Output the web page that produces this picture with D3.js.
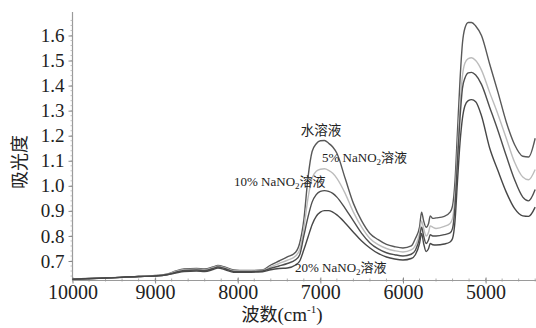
<!DOCTYPE html>
<html>
<head>
<meta charset="utf-8">
<script src="https://cdn.jsdelivr.net/npm/d3@7"></script>
<style>
  body { margin: 0; background: #fff; }
  svg { display: block; }
</style>
</head>
<body>
<div class="svg-container"></div>
<script>
// wavenumber grid (cm-1)
const wavenumbers = [10000, 9600, 9200, 9000, 8850, 8750, 8650, 8500, 8400, 8300, 8240, 8150, 8050, 7900, 7700,
  7600, 7500, 7400, 7300, 7250, 7200, 7150, 7100, 7050, 7000, 6950, 6900, 6850, 6800, 6700, 6600, 6500, 6400,
  6300, 6200, 6100, 6000, 5900, 5850, 5800, 5775, 5750, 5720, 5690, 5670, 5640, 5600, 5500, 5430, 5400, 5370,
  5340, 5310, 5280, 5250, 5210, 5170, 5120, 5050, 4950, 4850, 4750, 4650, 4550, 4480, 4400];

const water = [0.628, 0.632, 0.638, 0.642, 0.648, 0.660, 0.668, 0.670, 0.668, 0.676, 0.682, 0.675, 0.664, 0.662, 0.664,
  0.684, 0.700, 0.716, 0.735, 0.772, 0.864, 1.032, 1.137, 1.168, 1.180, 1.181, 1.170, 1.155, 1.130, 1.030, 0.930, 0.860, 0.810,
  0.785, 0.766, 0.757, 0.752, 0.760, 0.790, 0.835, 0.895, 0.860, 0.835, 0.850, 0.880, 0.870, 0.872, 0.878, 0.895, 0.920, 1.020,
  1.220, 1.420, 1.570, 1.630, 1.652, 1.652, 1.638, 1.600, 1.485, 1.373, 1.255, 1.165, 1.118, 1.115, 1.190];

const nano5 = [0.628, 0.632, 0.638, 0.641, 0.647, 0.658, 0.665, 0.667, 0.665, 0.673, 0.679, 0.672, 0.661, 0.660, 0.662,
  0.677, 0.690, 0.703, 0.720, 0.745, 0.830, 0.950, 1.030, 1.058, 1.066, 1.068, 1.062, 1.050, 1.030, 0.970, 0.895, 0.835, 0.790,
  0.765, 0.750, 0.741, 0.736, 0.744, 0.762, 0.810, 0.860, 0.830, 0.800, 0.815, 0.840, 0.835, 0.830, 0.838, 0.850, 0.870, 0.960,
  1.140, 1.320, 1.440, 1.490, 1.508, 1.511, 1.500, 1.462, 1.372, 1.285, 1.190, 1.095, 1.035, 1.024, 1.065];

const nano10 = [0.627, 0.632, 0.638, 0.640, 0.646, 0.655, 0.662, 0.664, 0.662, 0.670, 0.676, 0.669, 0.658, 0.657, 0.660,
  0.671, 0.680, 0.690, 0.705, 0.725, 0.800, 0.875, 0.935, 0.965, 0.978, 0.981, 0.978, 0.970, 0.955, 0.910, 0.860, 0.810, 0.772,
  0.748, 0.733, 0.725, 0.720, 0.727, 0.743, 0.790, 0.835, 0.800, 0.770, 0.785, 0.805, 0.800, 0.800, 0.805, 0.812, 0.830, 0.920,
  1.100, 1.270, 1.390, 1.430, 1.451, 1.453, 1.442, 1.405, 1.313, 1.220, 1.120, 1.025, 0.955, 0.940, 0.985];

const nano20 = [0.627, 0.632, 0.638, 0.640, 0.645, 0.652, 0.658, 0.660, 0.658, 0.666, 0.672, 0.665, 0.655, 0.655, 0.657,
  0.665, 0.670, 0.672, 0.684, 0.700, 0.745, 0.795, 0.845, 0.878, 0.895, 0.901, 0.901, 0.895, 0.884, 0.852, 0.815, 0.780, 0.752,
  0.730, 0.716, 0.708, 0.704, 0.710, 0.725, 0.770, 0.810, 0.770, 0.738, 0.750, 0.770, 0.765, 0.764, 0.768, 0.776, 0.790, 0.860,
  1.020, 1.170, 1.270, 1.320, 1.340, 1.344, 1.336, 1.280, 1.150, 1.060, 0.975, 0.910, 0.880, 0.878, 0.915];

const seriesNames = ["水溶液", "5% NaNO2溶液", "10% NaNO2溶液", "20% NaNO2溶液"];
const xTicks = [10000, 9000, 8000, 7000, 6000, 5000];
const yTicks = [0.7, 0.8, 0.9, 1.0, 1.1, 1.2, 1.3, 1.4, 1.5, 1.6];

const width = 536, height = 328;
const serif = "'Liberation Serif', 'Times New Roman', serif";
const cjk = "'Noto Sans CJK SC', sans-serif";

const svg = d3.select(".svg-container").append("svg")
  .attr("width", width)
  .attr("height", height);

svg.append("rect").attr("width", width).attr("height", height).attr("fill", "#fff");

const x = d3.scaleLinear().domain([10000, 4390]).range([72.5, 536]);
const y = d3.scaleLinear().domain([0.7, 1.6]).range([261, 35.5]);
const axisTop = 12, axisBottom = 280.5;

// y axis
const yAxis = svg.append("g").attr("transform", `translate(${x(10000)},0)`);
yAxis.append("line").attr("y1", axisTop).attr("y2", axisBottom).attr("stroke", "#9a9a9a").attr("stroke-width", 1.2);
yAxis.selectAll(".minor").data(d3.range(0.64, 1.68, 0.02))
  .join("line")
  .attr("x1", -2).attr("x2", 0)
  .attr("y1", d => y(d)).attr("y2", d => y(d))
  .attr("stroke", "#b0b0b0").attr("stroke-width", 0.8);
yAxis.call(d3.axisLeft(y).tickValues(yTicks).tickFormat(d3.format(".1f")).tickSize(4))
  .call(g => g.select(".domain").remove())
  .call(g => g.selectAll(".tick line").attr("stroke", "#888"))
  .call(g => g.selectAll(".tick text")
    .attr("x", -8)
    .attr("fill", "#222")
    .style("font-family", serif)
    .style("font-size", "19px"));

// x axis
const xAxis = svg.append("g").attr("transform", `translate(0,${axisBottom})`);
xAxis.append("line").attr("x1", x(10000)).attr("x2", width).attr("stroke", "#9a9a9a").attr("stroke-width", 1.2);
xAxis.selectAll(".minor").data(d3.range(10000, 4390, -200))
  .join("line")
  .attr("x1", d => x(d)).attr("x2", d => x(d))
  .attr("y1", -2).attr("y2", 1)
  .attr("stroke", "#999").attr("stroke-width", 0.8);
xAxis.call(d3.axisBottom(x).tickValues(xTicks).tickFormat(d3.format("d")).tickSize(3))
  .call(g => g.select(".domain").remove())
  .call(g => g.selectAll(".tick line").attr("y1", -3).attr("stroke", "#888"))
  .call(g => g.selectAll(".tick text")
    .attr("y", 4)
    .attr("fill", "#222")
    .style("font-family", serif)
    .style("font-size", "20px"));

// curves
const line = d3.line()
  .x((d, i) => x(wavenumbers[i]))
  .y(d => y(d))
  .curve(d3.curveMonotoneX);

const curves = [
  {values: water, color: "#585858"},
  {values: nano5, color: "#bcbcbc"},
  {values: nano10, color: "#4e4e4e"},
  {values: nano20, color: "#474747"}
];

svg.selectAll("path.curve").data(curves)
  .join("path")
  .attr("class", "curve")
  .attr("d", d => line(d.values))
  .attr("fill", "none")
  .attr("stroke", d => d.color)
  .attr("stroke-width", 1.4);

// labels on the curves
function label(txt, px, py, anchor) {
  const t = svg.append("text")
    .attr("x", px).attr("y", py)
    .attr("text-anchor", anchor || "start")
    .attr("fill", "#222")
    .style("font-size", "13px");
  const m = txt.match(/^(.*NaNO)2(.*)$/);
  if (!m) {
    t.append("tspan").style("font-family", cjk).style("font-size", "13.5px").text(txt);
    return;
  }
  t.append("tspan").style("font-family", serif).text(m[1]);
  t.append("tspan").style("font-family", serif).style("font-size", "9px").attr("dy", 3).text("2");
  t.append("tspan").style("font-family", cjk).attr("dy", -3).text(m[2]);
}
label(seriesNames[0], 321, 135, "middle");
label(seriesNames[1], 322, 162);
label(seriesNames[2], 234, 186);
label(seriesNames[3], 295, 272);

// axis titles
svg.append("text")
  .attr("transform", "translate(26,162) rotate(-90)")
  .attr("text-anchor", "middle")
  .attr("fill", "#222")
  .style("font-family", cjk)
  .style("font-size", "18px")
  .text("吸光度");

const xt = svg.append("text")
  .attr("x", 282).attr("y", 321)
  .attr("text-anchor", "middle")
  .attr("fill", "#222")
  .style("font-size", "19px");
xt.append("tspan").style("font-family", cjk).style("font-size", "18px").text("波数");
xt.append("tspan").style("font-family", serif).text("(cm");
xt.append("tspan").style("font-family", serif).style("font-size", "11px").attr("dy", -8).text("-1");
xt.append("tspan").style("font-family", serif).attr("dy", 8).text(")");
</script>
</body>
</html>
